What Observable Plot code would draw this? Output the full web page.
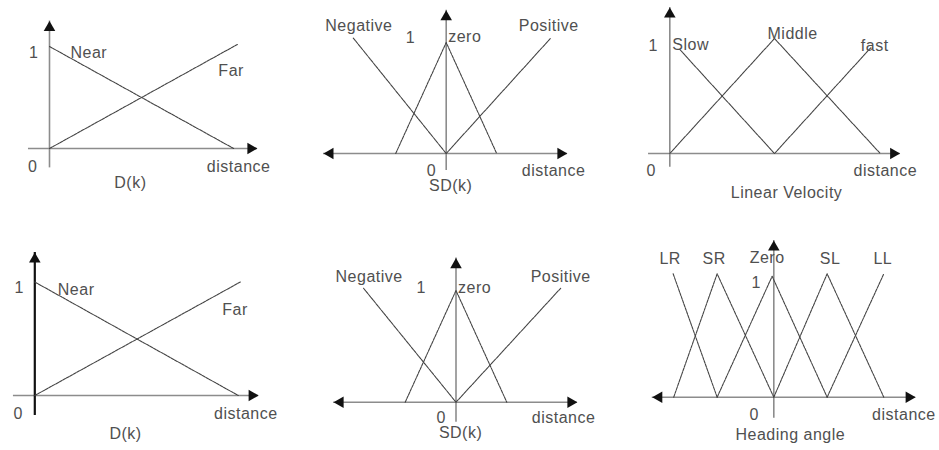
<!DOCTYPE html>
<html>
<head>
<meta charset="utf-8">
<script src="https://cdn.jsdelivr.net/npm/d3@7"></script>
<script src="https://cdn.jsdelivr.net/npm/@observablehq/plot@0.6"></script>
<style>
  body { margin: 0; background: #fff; }
  #grid { position: relative; width: 939px; height: 450px; overflow: hidden; }
  #grid > div { position: absolute; width: 313px; height: 225px; }
  #grid svg { overflow: visible; }
  #grid text { letter-spacing: 0.5px; }
  #grid g[aria-label="variable title"] text { letter-spacing: 1px; }
</style>
</head>
<body>
<div id="grid"></div>
<script>
// Fuzzy membership functions: each set is a polyline of [input, membership] breakpoints.
const distanceNames = ["Near", "Far"];
const distanceSetsA = [[[0, 1], [0.99, 0]], [[0, 0], [1.01, 1.02]]];
const distanceSetsB = [[[0, 1], [1, 0]], [[0, 0], [1.01, 1]]];

const sdNames = ["Negative", "zero", "Positive"];
const sdSetsA = [[[-1.84, 1.04], [0, 0]], [[-1, 0], [0, 1], [1, 0]], [[0, 0], [2.07, 1.04]]];
const sdSetsB = [[[-1.82, 1.02], [0, 0]], [[-1, 0], [0, 1], [1, 0]], [[0, 0], [2.06, 1.02]]];

const velocityNames = ["Slow", "Middle", "fast"];
const velocitySets = [[[0.1, 0.9], [1, 0]], [[0, 0], [1, 1], [2.01, 0]], [[1, 0], [1.92, 0.92]]];

const headingNames = ["LR", "SR", "Zero", "SL", "LL"];
const headingSets = [
  [[-1.83, 1], [-1.03, 0]],
  [[-1.82, 0], [-1.03, 1], [0, 0]],
  [[-1.03, 0], [-0.03, 0.98], [0.97, 0]],
  [[0, 0], [0.97, 1], [2, 0]],
  [[0.97, 0], [2, 1]]
];

const tickLabels = ["0", "1"];
const axisName = "distance";
const variableTitles = ["D(k)", "SD(k)", "Linear Velocity", "D(k)", "SD(k)", "Heading angle"];

// Panel layout: page placement, pixel origin and unit lengths, axis extents, label offsets.
const panels = [
  { names: distanceNames, sets: distanceSetsA, title: variableTitles[0],
    left: 0, top: 0, ox: 49, oy: 148, ux: 186, uy: 102,
    xAxis: [-0.113, 1.118], yAxis: [-0.19, 1.25],
    labels: [{dx: 21, dy: 6, anchor: "start"}, {dx: -19, dy: 26, anchor: "start"}],
    one: [-11, 6], zero: [-12, 18], dist: [13, 18], titleX: 0.435, titleDy: 34 },
  { names: sdNames, sets: sdSetsA, title: variableTitles[1],
    left: 313, top: 0, ox: 445.7, oy: 153, ux: 50.5, uy: 111,
    xAxis: [-2.43, 2.40], yAxis: [-0.153, 1.29],
    labels: [{dx: -28, dy: -12, anchor: "start"}, {dx: 2, dy: -6, anchor: "start"}, {dx: -32, dy: -12, anchor: "start"}],
    one: [-31, -5], zero: [-10, 17], dist: [18, 17], titleX: 0.09, titleDy: 32 },
  { names: velocityNames, sets: velocitySets, title: variableTitles[2],
    left: 626, top: 0, ox: 669.3, oy: 153, ux: 104.7, uy: 115,
    xAxis: [-0.203, 2.20], yAxis: [-0.12, 1.27],
    labels: [{dx: -8, dy: -5, anchor: "start"}, {dx: -7, dy: -5, anchor: "start"}, {dx: -10, dy: -2, anchor: "start"}],
    one: [-12, 7], zero: [-14, 17], dist: [17, 17], titleX: 1.115, titleDy: 39 },
  { names: distanceNames, sets: distanceSetsB, title: variableTitles[3],
    left: 0, top: 225, ox: 34.3, oy: 395, ux: 203.5, uy: 113.5,
    xAxis: [-0.105, 1.10], yAxis: [-0.176, 1.26], boldY: true,
    labels: [{dx: 23, dy: 8, anchor: "start"}, {dx: -18, dy: 28, anchor: "start"}],
    one: [-11, 6], zero: [-12, 18], dist: [19, 18], titleX: 0.446, titleDy: 38 },
  { names: sdNames, sets: sdSetsB, title: variableTitles[4],
    left: 313, top: 225, ox: 455.5, oy: 401.7, ux: 50.8, uy: 111.7,
    xAxis: [-2.41, 2.39], yAxis: [-0.18, 1.29],
    labels: [{dx: -28, dy: -11, anchor: "start"}, {dx: 2, dy: -3, anchor: "start"}, {dx: -30, dy: -11, anchor: "start"}],
    one: [-30, -3], zero: [-10, 16], dist: [18, 16], titleX: 0.09, titleDy: 31 },
  { names: headingNames, sets: headingSets, title: variableTitles[5],
    left: 626, top: 225, ox: 773.3, oy: 396.7, ux: 55, uy: 123.4,
    xAxis: [-2.21, 2.58], yAxis: [-0.17, 1.27],
    labels: [{dx: -3, dy: -15, anchor: "middle"}, {dx: -3, dy: -15, anchor: "middle"}, {dx: -5, dy: -18, anchor: "middle"},
             {dx: 3, dy: -15, anchor: "middle"}, {dx: -1, dy: -15, anchor: "middle"}],
    one: [-13, 9], zero: [-15, 18], dist: [20, 18], titleX: 0.3, titleDy: 38 }
];

const font = {fontFamily: "Liberation Sans, Arial, sans-serif", fontSize: 16, fill: "#505050"};
const lineColor = "#444";
const axisColor = "#8c8c8c";
const head = {symbol: "triangle", r: 4.3, fill: "#111"};
const tip = 6.7;

function drawPanel(p) {
  const rows = p.sets.flatMap((pts, i) => pts.map(([x, y]) => ({set: p.names[i], x, y})));
  const peaks = p.sets.map((pts, i) => {
    const top = pts.reduce((a, b) => (b[1] > a[1] ? b : a));
    return {name: p.names[i], x: top[0], y: top[1]};
  });
  const origin = [{x: 0, y: 0}];
  const unit = [{x: 0, y: 1}];
  const xEnd = [{x: p.xAxis[1], y: 0}];
  const xStart = [{x: p.xAxis[0], y: 0}];
  const yEnd = [{x: 0, y: p.yAxis[1]}];
  const bothSides = p.xAxis[0] < -1;

  const marks = [
    Plot.ruleY([0], {x1: p.xAxis[0], x2: p.xAxis[1], stroke: axisColor, strokeWidth: 1.6}),
    Plot.ruleX([0], {y1: p.yAxis[0], y2: p.yAxis[1],
      stroke: p.boldY ? "#111" : axisColor, strokeWidth: p.boldY ? 2.2 : 1.6}),
    Plot.line(rows, {x: "x", y: "y", z: "set", stroke: lineColor, strokeWidth: 1.1, strokeDasharray: "3,1"}),
    Plot.dot(xEnd, {x: "x", y: "y", ...head, rotate: 90, dx: -tip}),
    Plot.dot(yEnd, {x: "x", y: "y", ...head, rotate: 0, dy: tip}),
    ...(bothSides ? [Plot.dot(xStart, {x: "x", y: "y", ...head, rotate: -90, dx: tip})] : []),
    ...peaks.map((d, i) => Plot.text([d], {x: "x", y: "y", text: "name", ...font,
      dx: p.labels[i].dx, dy: p.labels[i].dy, textAnchor: p.labels[i].anchor})),
    Plot.text(unit, {x: "x", y: "y", text: () => tickLabels[1], ...font, textAnchor: "end", dx: p.one[0], dy: p.one[1]}),
    Plot.text(origin, {x: "x", y: "y", text: () => tickLabels[0], ...font, textAnchor: "end", dx: p.zero[0], dy: p.zero[1]}),
    Plot.text(xEnd, {x: "x", y: "y", text: () => axisName, ...font, textAnchor: "end", dx: p.dist[0], dy: p.dist[1]}),
    Plot.text([{x: p.titleX, y: 0}], {x: "x", y: "y", text: () => p.title, ...font, textAnchor: "middle",
      dy: p.titleDy, ariaLabel: "variable title"})
  ];

  const chart = Plot.plot({
    width: 313,
    height: 225,
    margin: 0,
    x: {type: "linear", domain: [0, 1], range: [p.ox - p.left, p.ox - p.left + p.ux], axis: null},
    y: {type: "linear", domain: [0, 1], range: [p.oy - p.top, p.oy - p.top - p.uy], axis: null},
    style: {background: "transparent", overflow: "visible"},
    marks
  });
  const holder = document.createElement("div");
  holder.style.left = p.left + "px";
  holder.style.top = p.top + "px";
  holder.appendChild(chart);
  document.getElementById("grid").appendChild(holder);
}

panels.forEach(drawPanel);
</script>
</body>
</html>
